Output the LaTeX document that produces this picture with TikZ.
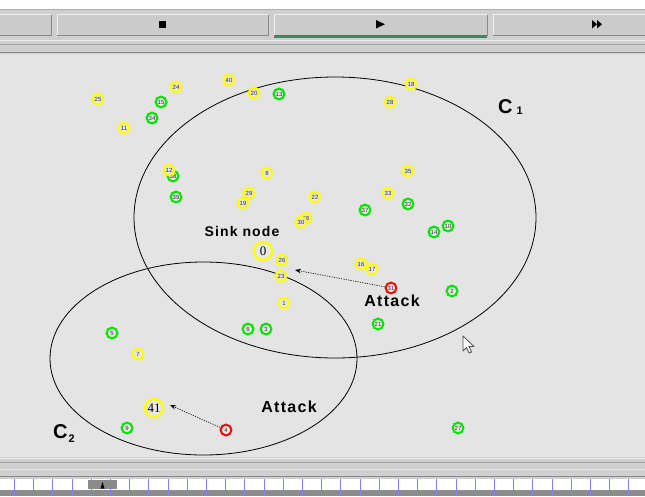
\documentclass[tikz,border=0pt]{standalone}
\usepackage{fontspec}
\setmainfont{Liberation Serif}
\setsansfont{Liberation Sans}
\newfontfamily\tagfont[LetterSpace=8]{Liberation Sans}
\usetikzlibrary{arrows.meta}

\definecolor{canvas}{HTML}{E4E4E4}
\definecolor{barfill}{HTML}{CFCFCF}
\definecolor{btnfill}{HTML}{CBCBCB}
\definecolor{btndark}{HTML}{8A8A8A}
\definecolor{btnlight}{HTML}{EFEFEF}
\definecolor{runline}{HTML}{2F8F5F}
\definecolor{nodefill}{HTML}{E8E8E8}
\definecolor{nodeyellow}{HTML}{FFFF00}
\definecolor{nodegreen}{HTML}{00E400}
\definecolor{nodered}{HTML}{F01010}
\definecolor{numgray}{HTML}{2A2A2A}
\definecolor{tickblue}{HTML}{8080FF}
\definecolor{stripgray}{HTML}{8C8C8C}

\begin{document}
\begin{tikzpicture}[x=1pt,y=-1pt,
  sensor/.style={circle, line width=2.1pt, fill=nodefill, minimum size=10.8pt,
    inner sep=0pt, font=\fontsize{6}{6}\selectfont\sffamily, text=numgray},
  yel/.style={sensor, draw=nodeyellow},
  grn/.style={sensor, draw=nodegreen},
  rd/.style={sensor, draw=nodered},
  bigyel/.style={circle, draw=nodeyellow, line width=2.4pt, fill=nodefill,
    minimum size=18pt, inner sep=0pt, font=\fontsize{13}{13}\selectfont\rmfamily},
  tag/.style={inner sep=0pt, font=\tagfont\bfseries\fontsize{#1}{#1}\selectfont},
  cname/.style={inner sep=0pt, anchor=base west, font=\sffamily\bfseries\fontsize{#1}{#1}\selectfont},
  clusterrange/.style={line width=0.8pt, black},
  attackarrow/.style={line width=0.6pt, dash pattern=on 1.2pt off 1.2pt,
    -{Stealth[length=6pt,width=4.5pt]}},
]
\useasboundingbox (0,0) rectangle (645,496);

% window background and top toolbar
\fill[white] (0,0) rectangle (645,496);
\fill[barfill] (0,9) rectangle (645,54);
\draw[btndark!70, line width=0.8pt] (0,9.5) -- (645,9.5);
\foreach \xa/\xb in {-2/51, 57/268, 274/487, 493/647}{
  \fill[btnfill] (\xa,14) rectangle (\xb,36);
  \draw[btnlight, line width=0.8pt] (\xa,35) -- (\xa,14.5) -- (\xb,14.5);
  \draw[btndark, line width=1pt] (\xa,35.5) -- (\xb,35.5) -- (\xb,14.5);
}
\fill[runline] (274,35) rectangle (487,37.5);
\fill[black] (158.5,20.5) rectangle (165.5,28);
\fill[black] (376,20) -- (376,28.5) -- (385,24.25) -- cycle;
\fill[black] (592,20) -- (592,28.5) -- (597,24.25) -- cycle;
\fill[black] (597,20) -- (597,28.5) -- (602,24.25) -- cycle;
\draw[btnlight, line width=0.8pt] (0,40) -- (645,40);
\draw[btndark!80, line width=0.8pt] (0,44) -- (645,44);
\draw[btndark!40, line width=0.8pt] (0,47.5) -- (645,47.5);
\draw[btndark, line width=1pt] (0,52.5) -- (645,52.5);

% simulation canvas
\fill[canvas] (0,54) rectangle (645,457);

% bottom bars and time ruler
\fill[barfill] (0,457) rectangle (645,479);
\draw[btnlight, line width=0.8pt] (0,458.5) -- (645,458.5);
\draw[btndark!80, line width=0.8pt] (0,462.5) -- (645,462.5);
\draw[btnlight!70!barfill, line width=0.8pt] (0,469.5) -- (645,469.5);
\draw[btndark, line width=0.8pt] (0,476.5) -- (645,476.5);
\fill[white] (0,479) rectangle (645,490);
\fill[stripgray] (0,490) rectangle (645,496);
\foreach \k in {0,...,32}{
  \draw[tickblue, line width=1pt] (14.4+19.2*\k,479) -- (14.4+19.2*\k,496);
}
\fill[btndark] (88,480) rectangle (117,489);
\fill[black] (100.5,488.5) -- (104.5,488.5) -- (102.5,482) -- cycle;

% cluster ranges
\draw[clusterrange] (335,217.5) ellipse [x radius=201pt, y radius=140.5pt];
\draw[clusterrange] (203.5,358.5) ellipse [x radius=153.5pt, y radius=96.5pt];

% sensor nodes
\node[grn] (n38) at (173,176) {38};
\node[yel] (n12) at (169,170) {12};
\node[yel] (n36) at (306,218) {36};
\node[yel] (n30) at (301,222) {30};
\node[bigyel] (n0) at (263,251) {0};
\node[yel] (n1) at (284,303) {1};
\node[grn] (n2) at (452,291) {2};
\node[grn] (n3) at (266,329) {3};
\node[rd]  (n4) at (226,430) {4};
\node[grn] (n5) at (112,333) {5};
\node[grn] (n6) at (248,329) {6};
\node[yel] (n7) at (138,354) {7};
\node[yel] (n8) at (267,173) {8};
\node[grn] (n9) at (127,428) {9};
\node[grn] (n10) at (448,226) {10};
\node[yel] (n11) at (124,128) {11};
\node[grn] (n13) at (279,94) {13};
\node[grn] (n14) at (434,232) {14};
\node[grn] (n15) at (161,102) {15};
\node[yel] (n16) at (361,264) {16};
\node[yel] (n17) at (372,269) {17};
\node[yel] (n18) at (411,84) {18};
\node[yel] (n19) at (243,203) {19};
\node[yel] (n20) at (254,93) {20};
\node[grn] (n21) at (378,324) {21};
\node[yel] (n22) at (315,197) {22};
\node[yel] (n23) at (281,276) {23};
\node[yel] (n24) at (176,87) {24};
\node[yel] (n25) at (98,99) {25};
\node[yel] (n26) at (282,260) {26};
\node[grn] (n27) at (458,428) {27};
\node[yel] (n28) at (390,102) {28};
\node[yel] (n29) at (249,193) {29};
\node[rd]  (n31) at (391,288) {31};
\node[grn] (n32) at (408,204) {32};
\node[yel] (n33) at (388,193) {33};
\node[grn] (n34) at (152,118) {34};
\node[yel] (n35) at (408,171) {35};
\node[grn] (n37) at (365,210) {37};
\node[grn] (n39) at (176,197) {39};
\node[yel] (n40) at (229,80) {40};
\node[bigyel] (n41) at (154,408) {41};

% labels
\node[tag=14] (sink) at (242,231) {Sink node};
\node[tag=16] (attack1) at (392,301) {Attack};
\node[tag=16] (attack2) at (289,407) {Attack};
\node[cname=20] (c1) at (498,113.5) {C};
\node[cname=11] (c1sub) at (516.5,114.5) {1};
\node[cname=20] (c2) at (53,438) {C};
\node[cname=11] (c2sub) at (68.5,442) {2};

% attack paths
\coordinate (hit1) at (295,270);
\coordinate (hit2) at (170,405);
\draw[attackarrow] (n31) -- (hit1);
\draw[attackarrow] (n4) -- (hit2);

% mouse pointer
\draw[fill=white, draw=black!70, line width=0.8pt, line join=round]
  (463,336) -- (463,351) -- (466.5,347.5) -- (469,353) -- (471.5,352)
  -- (469,346.5) -- (474,346.5) -- cycle;
\end{tikzpicture}
\end{document}
